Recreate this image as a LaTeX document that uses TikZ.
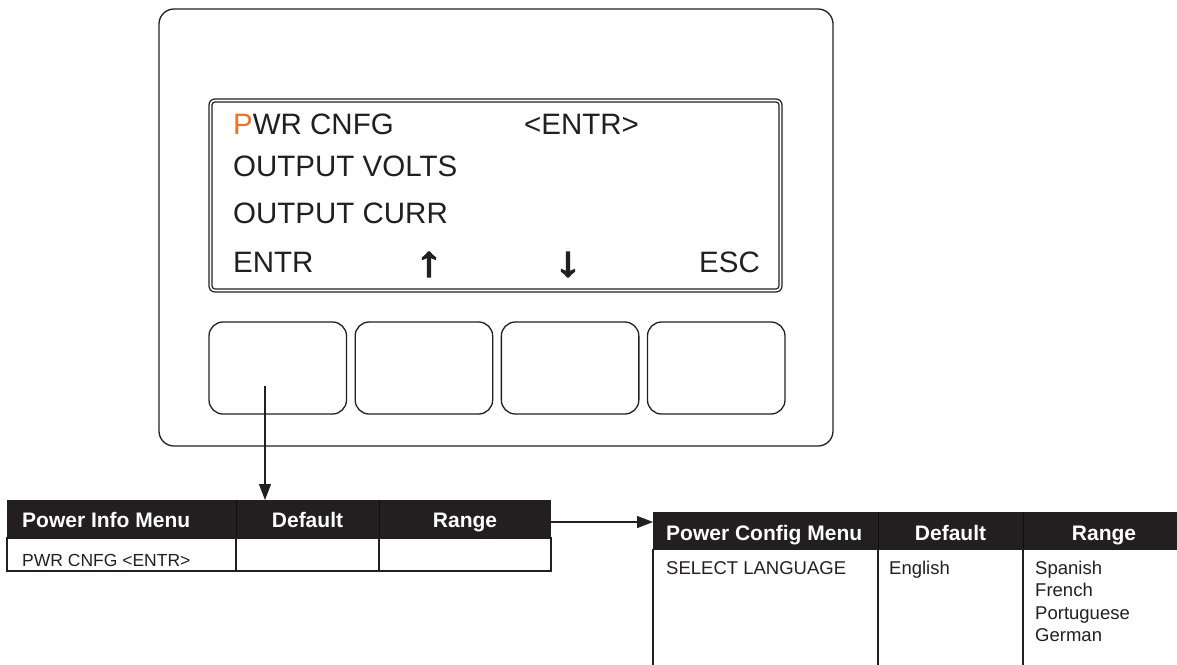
\documentclass[tikz,border=0pt]{standalone}
\usepackage{fontspec}
\setmainfont{Liberation Sans}
\newfontfamily\arrowfont[FakeBold=3.5]{Liberation Sans}
\usetikzlibrary{arrows.meta}
\definecolor{ink}{HTML}{231F20}
\definecolor{orng}{HTML}{F37021}
\begin{document}
\begin{tikzpicture}[x=1pt,y=-1pt,
  panelbox/.style={draw=ink, line width=1.3pt, rounded corners=15pt, inner sep=0pt},
  lcdbox/.style={draw=ink, line width=1.2pt, inner sep=0pt},
  btn/.style={draw=ink, line width=1.3pt, rounded corners=14pt, minimum width=137.5pt, minimum height=92pt, inner sep=0pt},
  lcd/.style={font=\fontsize{29.5}{34}\selectfont, text=ink, inner sep=0pt},
  lcdarrow/.style={font=\arrowfont\fontsize{42}{44}\selectfont, text=ink, inner sep=0pt, xscale=1.25},
  hdr/.style={fill=ink, inner sep=0pt, minimum height=38pt, anchor=north west},
  hdrtext/.style={font=\bfseries\fontsize{21}{25}\selectfont, text=white, inner sep=0pt, anchor=base},
  celltext/.style={font=\fontsize{18.5}{22}\selectfont, text=ink, inner sep=0pt, anchor=base west},
  tblline/.style={draw=ink, line width=1.8pt},
  hdrsep/.style={draw=black!60!ink, line width=0.5pt},
  conn/.style={draw=ink, line width=1.2pt, -{Triangle[length=16pt,width=12pt]}}
]
\useasboundingbox (0,0) rectangle (1177,664);

% front panel
\node[panelbox, minimum width=674pt, minimum height=437pt] (panel) at (496,227.5) {};
\node[lcdbox, rounded corners=6pt, minimum width=573pt, minimum height=193pt] (lcdout) at (495.5,195.5) {};
\node[lcdbox, rounded corners=3pt, minimum width=567pt, minimum height=187pt] (lcdin) at (495.5,195.5) {};

% display text
\node[lcd, anchor=base west] (l1a) at (233,134) {\textcolor{orng}{P}WR CNFG};
\node[lcd, anchor=base west] (l1b) at (524,134) {<ENTR>};
\node[lcd, anchor=base west] (l2) at (233,176) {OUTPUT VOLTS};
\node[lcd, anchor=base west] (l3) at (233,223) {OUTPUT CURR};
\node[lcd, anchor=base west] (l4a) at (233,272) {ENTR};
\node[lcdarrow] (l4b) at (429,264.5) {↑};
\node[lcdarrow] (l4c) at (568,264.5) {↓};
\node[lcd, anchor=base east] (l4d) at (760,272) {ESC};

% buttons
\node[btn] (b1) at (277.75,368) {};
\node[btn] (b2) at (423.9,368) {};
\node[btn] (b3) at (570.1,368) {};
\node[btn] (b4) at (716.25,368) {};
\coordinate (src) at (265,386);

% left table
\node[hdr, minimum width=544pt] (lhdr) at (7,500) {};
\draw[hdrsep] (236,500) -- (236,538) (379,500) -- (379,538);
\draw[tblline] (7,538) rectangle (551,571);
\draw[tblline] (236,538) -- (236,571) (379,538) -- (379,571);
\node[hdrtext, anchor=base west] (lh1) at (22,527) {Power Info Menu};
\node[hdrtext] (lh2) at (307.5,527) {Default};
\node[hdrtext] (lh3) at (465,527) {Range};
\node[celltext, font=\fontsize{17.5}{21}\selectfont] (lr1) at (22,566) {PWR CNFG <ENTR>};

% right table
\node[hdr, minimum width=540pt] (rhdr) at (653,512) {};
\draw[hdrsep] (878,512) -- (878,550) (1023,512) -- (1023,550);
\draw[tblline] (653,549) -- (653,670) (878,549) -- (878,670) (1023,549) -- (1023,670);
\node[hdrtext, anchor=base west] (rh1) at (666,540) {Power Config Menu};
\node[hdrtext] (rh2) at (950.5,540) {Default};
\node[hdrtext] (rh3) at (1104,540) {Range};
\node[celltext] (rr1) at (666,574) {SELECT LANGUAGE};
\node[celltext] (rr2) at (889,574) {English};
\node[celltext] (rr3a) at (1035,574) {Spanish};
\node[celltext] (rr3b) at (1035,596.5) {French};
\node[celltext] (rr3c) at (1035,619) {Portuguese};
\node[celltext] (rr3d) at (1035,641.5) {German};

% connectors
\draw[conn] (src) -- (src |- lhdr.north);
\draw[conn] (lhdr.east |- 0,522) -- (rhdr.west |- 0,522);
\end{tikzpicture}
\end{document}
